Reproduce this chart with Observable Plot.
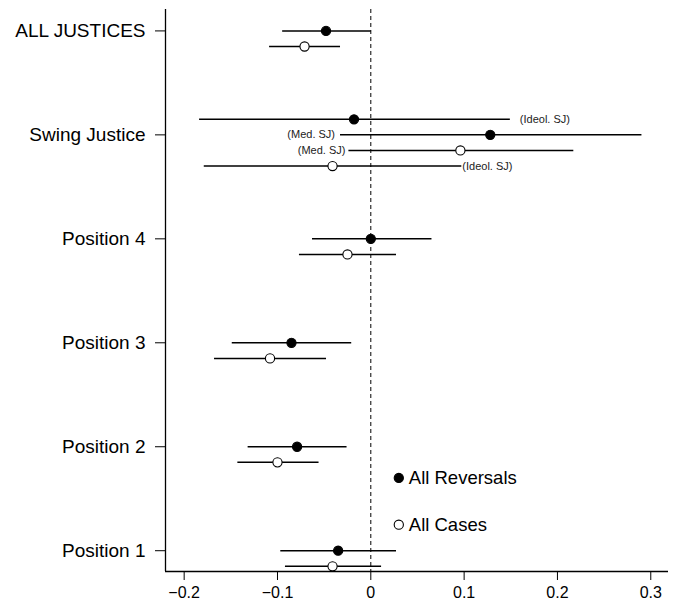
<!DOCTYPE html>
<html>
<head>
<meta charset="utf-8">
<script src="https://cdn.jsdelivr.net/npm/d3@7"></script>
<script src="https://cdn.jsdelivr.net/npm/@observablehq/plot@0.6"></script>
<style>
  html, body { margin: 0; padding: 0; background: #fff; }
  #chart svg { display: block; font-family: "Liberation Sans", Arial, Helvetica, sans-serif; }
</style>
</head>
<body>
<div id="chart"></div>
<script>
// Categories (bottom to top)
const categories = ["Position 1", "Position 2", "Position 3", "Position 4", "Swing Justice", "ALL JUSTICES"];

// All Reversals (filled) — estimate and interval, aligned with categories (Swing Justice handled below)
const reversalEst = [-0.035, -0.079, -0.085, 0.000, null, -0.048];
const reversalLo  = [-0.097, -0.132, -0.149, -0.063, null, -0.095];
const reversalHi  = [ 0.027, -0.026, -0.021, 0.065, null, 0.000];

// All Cases (open)
const caseEst = [-0.041, -0.100, -0.108, -0.025, null, -0.071];
const caseLo  = [-0.092, -0.143, -0.168, -0.077, null, -0.109];
const caseHi  = [ 0.011, -0.056, -0.048, 0.027, null, -0.033];

// Swing Justice rows (top to bottom)
const swingLabels = ["(Ideol. SJ)", "(Med. SJ)", "(Med. SJ)", "(Ideol. SJ)"];
const swingSeries = ["All Reversals", "All Reversals", "All Cases", "All Cases"];
const swingEst = [-0.018, 0.128, 0.096, -0.041];
const swingLo  = [-0.184, -0.033, -0.024, -0.179];
const swingHi  = [ 0.149, 0.290, 0.217, 0.097];

// Legend entries
const legendLabels = ["All Reversals", "All Cases"];

// ---- build rows (layout offsets live here, not in data) ----
const rows = [];
categories.forEach((c, i) => {
  if (reversalEst[i] != null) {
    rows.push({series: "All Reversals", y: i + 1, est: reversalEst[i], lo: reversalLo[i], hi: reversalHi[i]});
    rows.push({series: "All Cases", y: i + 1 - 0.15, est: caseEst[i], lo: caseLo[i], hi: caseHi[i]});
  }
});
const swingIdx = categories.indexOf("Swing Justice") + 1;
const swingOffsets = [0.15, 0, -0.15, -0.3];
const swingRows = swingLabels.map((lab, k) => ({
  k, series: swingSeries[k], y: swingIdx + swingOffsets[k],
  est: swingEst[k], lo: swingLo[k], hi: swingHi[k], label: lab
}));
const allRows = rows.concat(swingRows);

const legendRows = legendLabels.map((l, k) => ({series: l, x: 0.03, y: k === 0 ? 1.70 : 1.25}));

const fillFor = s => s === "All Reversals" ? "black" : "white";
const minus = d => d === 0 ? "0" : String(d).replace("-", "\u2212");

const xDomain = [-0.22, 0.319];
const yDomain = [0.8, 6.206];

const smallText = {fontSize: 11, fill: "#222"};

const chart = Plot.plot({
  width: 680,
  height: 601,
  marginLeft: 165,
  marginRight: 12,
  marginTop: 9,
  marginBottom: 30,
  x: {domain: xDomain},
  y: {domain: yDomain},
  style: {fontFamily: "Liberation Sans, Arial, Helvetica, sans-serif", color: "black", background: "white"},
  marks: [
    Plot.ruleX([0], {stroke: "black", strokeWidth: 1, strokeDasharray: "4,3"}),
    Plot.ruleX([xDomain[0]], {stroke: "black", strokeWidth: 1.3}),
    Plot.ruleY([yDomain[0]], {stroke: "black", strokeWidth: 1.3}),
    Plot.axisY({ticks: [1, 2, 3, 4, 5, 6], tickFormat: d => categories[d - 1], tickSize: 10, tickPadding: 10, fontSize: 19, label: null, stroke: "black"}),
    Plot.axisX({ticks: [-0.2, -0.1, 0, 0.1, 0.2, 0.3], tickFormat: minus, tickSize: 9, tickPadding: 6, fontSize: 16, label: null, stroke: "black"}),
    Plot.link(allRows, {x1: "lo", x2: "hi", y1: "y", y2: "y", stroke: "black", strokeWidth: 1.5}),
    Plot.dot(allRows, {x: "est", y: "y", r: 4.6, fill: d => fillFor(d.series), stroke: "black", strokeWidth: 1.1}),
    Plot.text(swingRows.filter(d => d.k === 0), {x: "hi", y: "y", text: "label", textAnchor: "start", dx: 10, ...smallText}),
    Plot.text(swingRows.filter(d => d.k === 3), {x: "hi", y: "y", text: "label", textAnchor: "start", dx: 1, ...smallText}),
    Plot.text(swingRows.filter(d => d.k === 1), {x: "lo", y: "y", text: "label", textAnchor: "end", dx: -5, ...smallText}),
    Plot.text(swingRows.filter(d => d.k === 2), {x: "lo", y: "y", text: "label", textAnchor: "end", dx: -3, ...smallText}),
    Plot.dot(legendRows, {x: "x", y: "y", r: 4.6, fill: d => fillFor(d.series), stroke: "black", strokeWidth: 1.1}),
    Plot.text(legendRows, {x: "x", y: "y", text: "series", textAnchor: "start", dx: 10, fontSize: 18.5, fill: "black"})
  ]
});
document.getElementById("chart").appendChild(chart);
</script>
</body>
</html>
